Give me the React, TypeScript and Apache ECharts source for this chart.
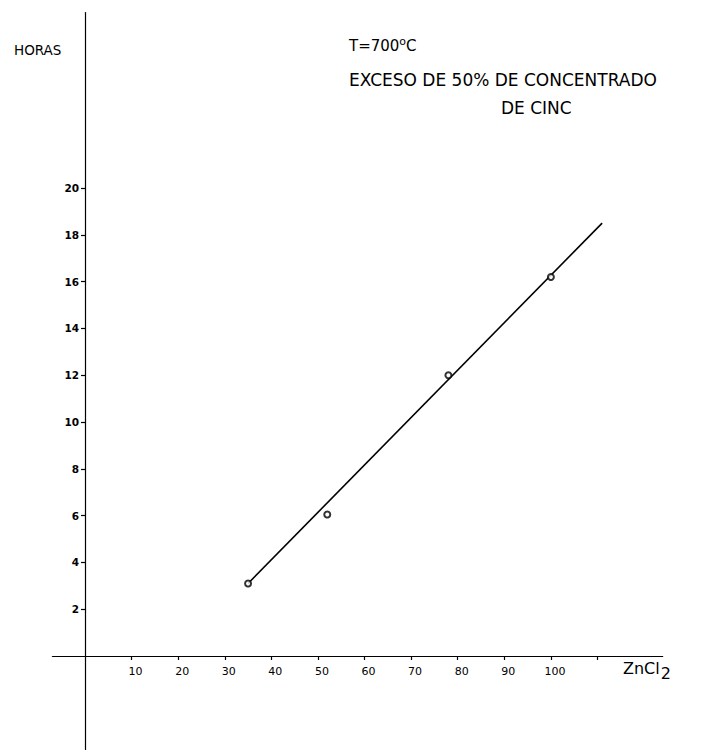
import React, { useEffect, useRef } from "react";
import * as echarts from "echarts";

// Measured points (ZnCl2 vs hours)
const zncl2 = [35, 52, 78, 100];
const horas = [3.1, 6.05, 12, 16.2];
// Hand-drawn fitted line end points
const fitX = [35, 111];
const fitY = [3.1, 18.5];
// Tick values
const xTicks = [10, 20, 30, 40, 50, 60, 70, 80, 90, 100, 110];
const xLabels = [10, 20, 30, 40, 50, 60, 70, 80, 90, 100];
const yTicks = [2, 4, 6, 8, 10, 12, 14, 16, 18, 20];

const FONT = "'DejaVu Sans', 'Liberation Sans', sans-serif";

export default function App() {
  const ref = useRef<HTMLDivElement>(null);
  useEffect(() => {
    if (!ref.current) return;
    const chart = echarts.init(ref.current, null, { renderer: "svg" });
    chart.setOption({
      animation: false,
      backgroundColor: "#ffffff",
      title: [
        { text: "HORAS", left: 9, top: 38, textStyle: { fontFamily: FONT, fontSize: 13.5, fontWeight: "normal", color: "#000" } },
        {
          text: "T=700{s|o}C",
          left: 344,
          top: 31,
          textStyle: {
            fontFamily: FONT, fontSize: 15, fontWeight: "normal", color: "#000",
            rich: { s: { fontFamily: FONT, fontSize: 11, color: "#000", verticalAlign: "top", padding: [0, 0, 8, 0] } },
          },
        },
        { text: "EXCESO DE 50% DE CONCENTRADO", left: 344, top: 66, textStyle: { fontFamily: FONT, fontSize: 17, fontWeight: "normal", color: "#000" } },
        { text: "DE CINC", left: 496, top: 94, textStyle: { fontFamily: FONT, fontSize: 17, fontWeight: "normal", color: "#000" } },
        {
          text: "ZnCl{s|2}",
          left: 618,
          top: 650,
          textStyle: {
            fontFamily: FONT, fontSize: 16, fontWeight: "normal", color: "#000",
            rich: { s: { fontFamily: FONT, fontSize: 16, color: "#000", padding: [10, 0, 0, 1] } },
          },
        },
      ],
      grid: [
        { left: 52.4, width: 610.3, top: 12.5, height: 737.1, containLabel: false },
        { left: 85, width: 577.7, top: 12.5, height: 643.5, containLabel: false },
      ],
      xAxis: [
        {
          type: "value",
          gridIndex: 0,
          min: -7,
          max: 124,
          splitLine: { show: false },
          axisLine: { onZero: true, lineStyle: { color: "#000", width: 1.2 } },
          axisTick: { show: false },
          axisLabel: { show: false },
        },
        {
          type: "value",
          gridIndex: 1,
          min: 0,
          max: 124,
          splitLine: { show: false },
          axisLine: { show: false },
          axisTick: { show: true, length: 4, customValues: xTicks, lineStyle: { color: "#000", width: 1.2 } },
          axisLabel: {
            customValues: xLabels,
            margin: 10,
            fontFamily: FONT,
            fontSize: 11,
            color: "#000",
            padding: [0, 0, 0, 8],
          },
        },
      ],
      yAxis: [
        {
          type: "value",
          gridIndex: 0,
          min: -4,
          max: 27.5,
          splitLine: { show: false },
          axisLine: { onZero: true, lineStyle: { color: "#000", width: 1.2 } },
          axisTick: { show: false },
          axisLabel: { show: false },
        },
        {
          type: "value",
          gridIndex: 1,
          min: 0,
          max: 27.5,
          interval: 2,
          splitLine: { show: false },
          axisLine: { show: false },
          axisTick: { show: true, length: 4, customValues: yTicks, lineStyle: { color: "#000", width: 1.2 } },
          axisLabel: {
            customValues: yTicks,
            margin: 6,
            fontFamily: FONT,
            fontSize: 10.5,
            fontWeight: "bold",
            color: "#000",
          },
        },
      ],
      series: [
        {
          type: "line",
          xAxisIndex: 1,
          yAxisIndex: 1,
          data: fitX.map((x, i) => [x, fitY[i]]),
          showSymbol: false,
          lineStyle: { color: "#000", width: 1.6 },
          z: 2,
        },
        {
          type: "scatter",
          xAxisIndex: 1,
          yAxisIndex: 1,
          data: zncl2.map((x, i) => [x, horas[i]]),
          symbol: "emptyCircle",
          symbolSize: 6,
          itemStyle: { color: "#000", borderColor: "#000", borderWidth: 1.3 },
          z: 3,
        },
      ],
    });
    return () => chart.dispose();
  }, []);
  return (
    <div
      ref={ref}
      style={{ position: "fixed", left: 0, top: 0, width: 717, height: 750, background: "#fff" }}
    />
  );
}
